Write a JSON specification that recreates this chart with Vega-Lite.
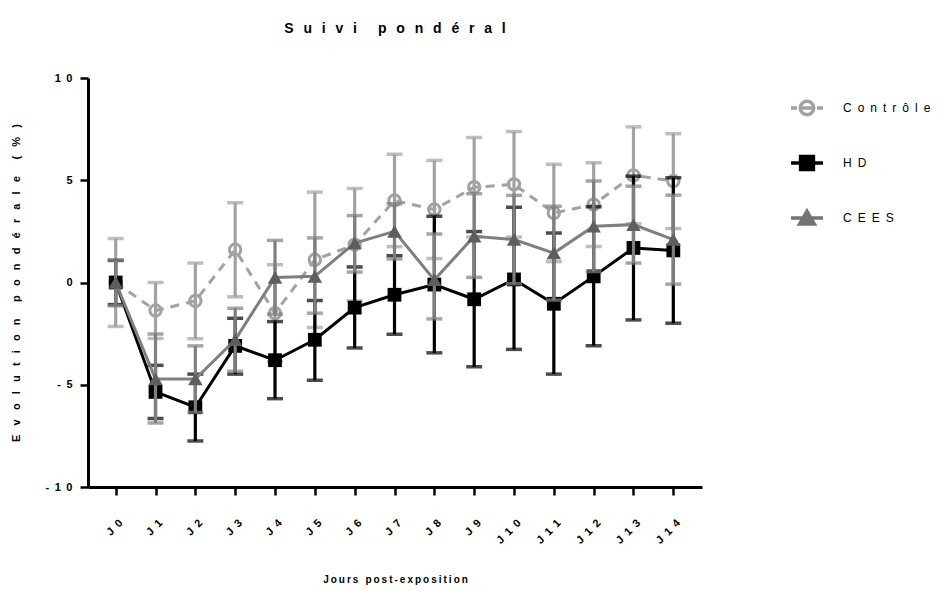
{
  "$schema": "https://vega.github.io/schema/vega-lite/v6.json",
  "width": 614,
  "height": 409,
  "autosize": {"type": "none"},
  "padding": {"left": 88, "top": 78, "right": 244, "bottom": 104},
  "background": "white",
  "config": {
    "view": {"stroke": null},
    "font": "Liberation Sans",
    "axis": {"domainColor": "#000", "tickColor": "#000", "labelColor": "#000", "titleColor": "#000", "labelFont": "Liberation Sans", "titleFont": "Liberation Sans", "grid": false}
  },
  "title": {
    "text": "S\u2002\u2009u\u2002\u2009i\u2002\u2009v\u2002\u2009i\u2003\u2002p\u2002\u2009o\u2002\u2009n\u2002\u2009d\u2002\u2009é\u2002\u2009r\u2002\u2009a\u2002\u2009l",
    "font": "Liberation Sans", "fontSize": 14, "fontWeight": "bold", "color": "#000", "anchor": "middle", "offset": 36
  },
  "data": {"values": [
    {"j": 0, "g": "Contrôle", "m": 0, "lo": -2.15, "hi": 2.15},
    {"j": 1, "g": "Contrôle", "m": -1.37, "lo": -2.74, "hi": 0.0},
    {"j": 2, "g": "Contrôle", "m": -0.9, "lo": -2.75, "hi": 0.95},
    {"j": 3, "g": "Contrôle", "m": 1.6, "lo": -0.7, "hi": 3.9},
    {"j": 4, "g": "Contrôle", "m": -1.5, "lo": -3.87, "hi": 0.87},
    {"j": 5, "g": "Contrôle", "m": 1.11, "lo": -2.2, "hi": 4.42},
    {"j": 6, "g": "Contrôle", "m": 1.85, "lo": -0.9, "hi": 4.6},
    {"j": 7, "g": "Contrôle", "m": 4.01, "lo": 1.75, "hi": 6.27},
    {"j": 8, "g": "Contrôle", "m": 3.57, "lo": 1.17, "hi": 5.97},
    {"j": 9, "g": "Contrôle", "m": 4.66, "lo": 2.23, "hi": 7.09},
    {"j": 10, "g": "Contrôle", "m": 4.8, "lo": 2.22, "hi": 7.38},
    {"j": 11, "g": "Contrôle", "m": 3.4, "lo": 1.02, "hi": 5.78},
    {"j": 12, "g": "Contrôle", "m": 3.81, "lo": 1.76, "hi": 5.86},
    {"j": 13, "g": "Contrôle", "m": 5.24, "lo": 2.87, "hi": 7.61},
    {"j": 14, "g": "Contrôle", "m": 4.96, "lo": 2.64, "hi": 7.28},
    {"j": 0, "g": "HD", "m": 0, "lo": -1.08, "hi": 1.08},
    {"j": 1, "g": "HD", "m": -5.35, "lo": -6.65, "hi": -4.05},
    {"j": 2, "g": "HD", "m": -6.1, "lo": -7.75, "hi": -4.48},
    {"j": 3, "g": "HD", "m": -3.1, "lo": -4.48, "hi": -1.75},
    {"j": 4, "g": "HD", "m": -3.8, "lo": -5.68, "hi": -1.91},
    {"j": 5, "g": "HD", "m": -2.8, "lo": -4.78, "hi": -0.88},
    {"j": 6, "g": "HD", "m": -1.23, "lo": -3.2, "hi": 0.76},
    {"j": 7, "g": "HD", "m": -0.6, "lo": -2.53, "hi": 1.31},
    {"j": 8, "g": "HD", "m": -0.1, "lo": -3.44, "hi": 3.24},
    {"j": 9, "g": "HD", "m": -0.82, "lo": -4.12, "hi": 2.49},
    {"j": 10, "g": "HD", "m": 0.15, "lo": -3.27, "hi": 3.68},
    {"j": 11, "g": "HD", "m": -1.04, "lo": -4.48, "hi": 2.42},
    {"j": 12, "g": "HD", "m": 0.3, "lo": -3.09, "hi": 3.7},
    {"j": 13, "g": "HD", "m": 1.69, "lo": -1.83, "hi": 5.2},
    {"j": 14, "g": "HD", "m": 1.57, "lo": -1.99, "hi": 5.12},
    {"j": 0, "g": "CEES", "m": 0, "lo": -1.14, "hi": 1.1},
    {"j": 1, "g": "CEES", "m": -4.72, "lo": -6.87, "hi": -2.52},
    {"j": 2, "g": "CEES", "m": -4.72, "lo": -6.35, "hi": -3.1},
    {"j": 3, "g": "CEES", "m": -2.8, "lo": -4.34, "hi": -1.26},
    {"j": 4, "g": "CEES", "m": 0.25, "lo": -1.55, "hi": 2.06},
    {"j": 5, "g": "CEES", "m": 0.3, "lo": -1.5, "hi": 2.18},
    {"j": 6, "g": "CEES", "m": 1.93, "lo": 0.51, "hi": 3.27},
    {"j": 7, "g": "CEES", "m": 2.5, "lo": 1.15, "hi": 3.85},
    {"j": 8, "g": "CEES", "m": 0.13, "lo": -1.78, "hi": 2.37},
    {"j": 9, "g": "CEES", "m": 2.26, "lo": 0.25, "hi": 4.34},
    {"j": 10, "g": "CEES", "m": 2.1, "lo": -0.06, "hi": 4.26},
    {"j": 11, "g": "CEES", "m": 1.44, "lo": -0.86, "hi": 3.73},
    {"j": 12, "g": "CEES", "m": 2.75, "lo": 0.54, "hi": 4.96},
    {"j": 13, "g": "CEES", "m": 2.83, "lo": 0.95, "hi": 4.71},
    {"j": 14, "g": "CEES", "m": 2.1, "lo": -0.08, "hi": 4.27}
  ]},
  "encoding": {
    "x": {
      "field": "j", "type": "quantitative",
      "scale": {"domain": [-0.695, 14.72], "nice": false, "zero": false},
      "axis": {
        "values": [0, 1, 2, 3, 4, 5, 6, 7, 8, 9, 10, 11, 12, 13, 14],
        "labelExpr": "join(split('J' + datum.value, ''), '\u2002')",
        "labelAngle": -45, "labelAlign": "right", "labelBaseline": "middle",
        "labelFontWeight": "bold", "labelFontSize": 11, "labelPadding": 26, "labelOffset": 5,
        "tickSize": 8, "tickWidth": 2.5, "domainWidth": 3,
        "title": "J\u2009o\u2009u\u2009r\u2009s\u2002\u2009p\u2009o\u2009s\u2009t\u2009-\u2009e\u2009x\u2009p\u2009o\u2009s\u2009i\u2009t\u2009i\u2009o\u2009n",
        "titleFontSize": 10, "titleFontWeight": "bold", "titlePadding": 29
      }
    }
  },
  "layer": [
    {
      "transform": [{"filter": "datum.g === 'Contrôle'"}],
      "layer": [
        {
          "mark": {"type": "rule", "color": "#a2a2a5", "strokeWidth": 3.2},
          "encoding": {
            "y": {
              "field": "lo", "type": "quantitative",
              "scale": {"domain": [-10, 10], "nice": false, "zero": false},
              "axis": {
                "values": [-10, -5, 0, 5, 10],
                "labelExpr": "join(split(replace(datum.label, '\u2212', '-'), ''), '\u2002')",
                "labelFontWeight": "bold", "labelFontSize": 11, "labelPadding": 8,
                "tickSize": 8, "tickWidth": 2.5, "domainWidth": 3,
                "title": "E\u2002\u2004v\u2002\u2004o\u2002\u2004l\u2002\u2004u\u2002\u2004t\u2002\u2004i\u2002\u2004o\u2002\u2004n\u2003\u2002p\u2002\u2004o\u2002\u2004n\u2002\u2004d\u2002\u2004é\u2002\u2004r\u2002\u2004a\u2002\u2004l\u2002\u2004e\u2003\u2002(\u2002\u2004%\u2002\u2004)",
                "titleFontSize": 11, "titleFontWeight": "bold", "titlePadding": 24
              }
            },
            "y2": {"field": "hi"}
          }
        },
        {"mark": {"type": "tick", "orient": "horizontal", "color": "#a2a2a5", "size": 16, "thickness": 3.5}, "encoding": {"y": {"field": "lo", "type": "quantitative", "scale": {"domain": [-10, 10]}}}},
        {"mark": {"type": "tick", "orient": "horizontal", "color": "#a2a2a5", "size": 16, "thickness": 3.5}, "encoding": {"y": {"field": "hi", "type": "quantitative", "scale": {"domain": [-10, 10]}}}},
        {"mark": {"type": "line", "color": "#a2a2a5", "strokeWidth": 3, "strokeDash": [9, 7]}, "encoding": {"y": {"field": "m", "type": "quantitative", "scale": {"domain": [-10, 10]}}}},
        {"mark": {"type": "point", "shape": "circle", "filled": false, "color": "#a2a2a5", "strokeWidth": 3, "size": 130, "opacity": 1}, "encoding": {"y": {"field": "m", "type": "quantitative", "scale": {"domain": [-10, 10]}}}}
      ]
    },
    {
      "transform": [{"filter": "datum.g === 'HD'"}],
      "layer": [
        {"mark": {"type": "rule", "color": "#000000", "strokeWidth": 3.2}, "encoding": {"y": {"field": "lo", "type": "quantitative", "scale": {"domain": [-10, 10]}}, "y2": {"field": "hi"}}},
        {"mark": {"type": "tick", "orient": "horizontal", "color": "#000000", "size": 16, "thickness": 3.5}, "encoding": {"y": {"field": "lo", "type": "quantitative", "scale": {"domain": [-10, 10]}}}},
        {"mark": {"type": "tick", "orient": "horizontal", "color": "#000000", "size": 16, "thickness": 3.5}, "encoding": {"y": {"field": "hi", "type": "quantitative", "scale": {"domain": [-10, 10]}}}},
        {"mark": {"type": "line", "color": "#000000", "strokeWidth": 3}, "encoding": {"y": {"field": "m", "type": "quantitative", "scale": {"domain": [-10, 10]}}}},
        {"mark": {"type": "point", "shape": "square", "filled": true, "color": "#000000", "size": 190, "opacity": 1}, "encoding": {"y": {"field": "m", "type": "quantitative", "scale": {"domain": [-10, 10]}}}}
      ]
    },
    {
      "transform": [{"filter": "datum.g === 'CEES'"}],
      "layer": [
        {"mark": {"type": "rule", "color": "#7f7f7f", "strokeWidth": 3.2}, "encoding": {"y": {"field": "lo", "type": "quantitative", "scale": {"domain": [-10, 10]}}, "y2": {"field": "hi"}}},
        {"mark": {"type": "tick", "orient": "horizontal", "color": "#7f7f7f", "size": 16, "thickness": 3.5}, "encoding": {"y": {"field": "lo", "type": "quantitative", "scale": {"domain": [-10, 10]}}}},
        {"mark": {"type": "tick", "orient": "horizontal", "color": "#7f7f7f", "size": 16, "thickness": 3.5}, "encoding": {"y": {"field": "hi", "type": "quantitative", "scale": {"domain": [-10, 10]}}}},
        {"mark": {"type": "line", "color": "#7f7f7f", "strokeWidth": 3}, "encoding": {"y": {"field": "m", "type": "quantitative", "scale": {"domain": [-10, 10]}}}},
        {"mark": {"type": "point", "shape": "triangle-up", "filled": true, "color": "#5e5e5e", "size": 210, "opacity": 1}, "encoding": {"y": {"field": "m", "type": "quantitative", "scale": {"domain": [-10, 10]}}}}
      ]
    },
    {
      "transform": [{"filter": "datum.j < 0"}],
      "mark": {"type": "point", "filled": false, "strokeWidth": 3.5, "opacity": 1},
      "encoding": {
        "y": {"field": "m", "type": "quantitative", "scale": {"domain": [-10, 10]}},
        "color": {
          "field": "g", "type": "nominal",
          "scale": {"domain": ["Contrôle", "HD", "CEES"], "range": ["#a2a2a5", "#000000", "#737373"]},
          "legend": {
            "title": null, "orient": "right", "offset": 75, "padding": 12,
            "symbolSize": 1024, "symbolStrokeWidth": 3.5, "symbolOpacity": 1,
            "labelFont": "Liberation Sans", "labelFontSize": 12, "labelColor": "#000", "labelOffset": 18,
            "rowPadding": 23,
            "labelExpr": "join(split(datum.label, ''), '\u2002')"
          }
        },
        "shape": {
          "field": "g", "type": "nominal",
          "scale": {
            "domain": ["Contrôle", "HD", "CEES"],
            "range": [
              "M-1,0H-0.62M-0.3,0H0.3M0.62,0H1M0.42,0A0.42,0.42,0,1,1,-0.42,0A0.42,0.42,0,1,1,0.42,0Z",
              "M-1,0H1M-0.4,-0.4H0.4V0.4H-0.4ZM-0.4,-0.2H0.4M-0.4,0.2H0.4",
              "M-1,0H1M0,-0.42L0.46,0.38H-0.46ZM-0.345,0.18H0.345M-0.23,-0.02H0.23M-0.115,-0.22H0.115"
            ]
          },
          "legend": {
            "title": null, "orient": "right", "offset": 75, "padding": 12,
            "symbolSize": 1024, "symbolStrokeWidth": 3.5, "symbolOpacity": 1,
            "labelFont": "Liberation Sans", "labelFontSize": 12, "labelColor": "#000", "labelOffset": 18,
            "rowPadding": 23,
            "labelExpr": "join(split(datum.label, ''), '\u2002')"
          }
        }
      }
    }
  ]
}
